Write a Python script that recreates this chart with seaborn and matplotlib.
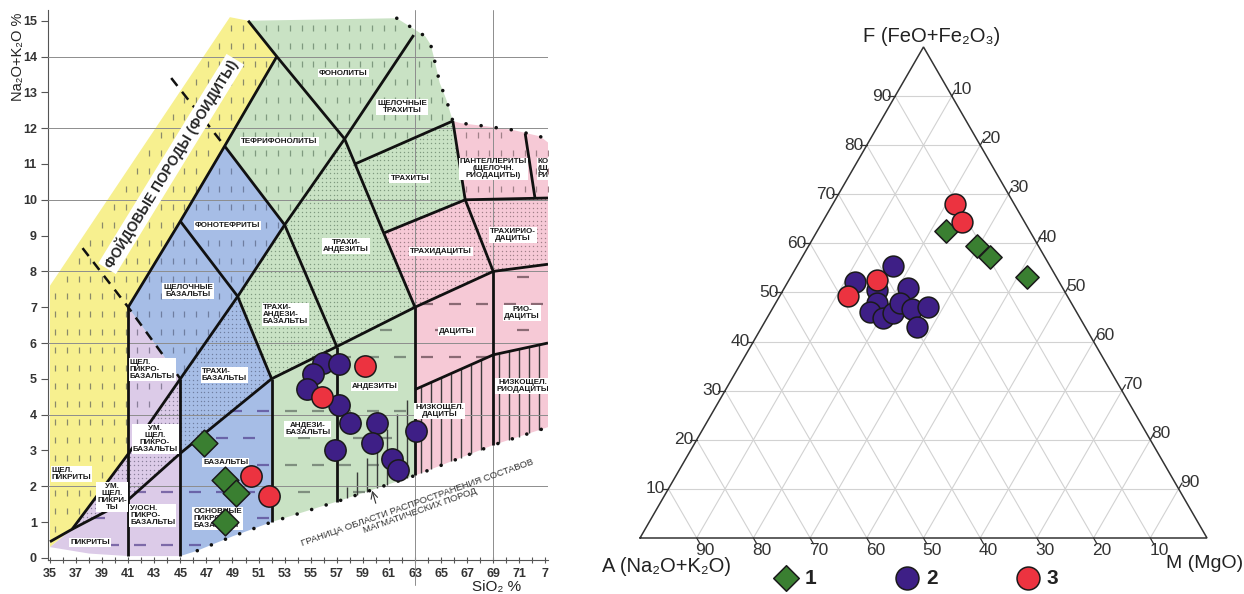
import numpy as np
import pandas as pd
import matplotlib
matplotlib.use("Agg")
import matplotlib.pyplot as plt
from matplotlib.path import Path
import seaborn as sns

sns.set_theme(style="white")
plt.rcParams["font.family"] = ["Liberation Sans", "DejaVu Sans"]

# ---------------- data: TAS diagram (left), wt % ----------------
tas_sio2_1 = [46.8, 48.45, 49.3, 48.45]
tas_alk_1 = [3.22, 2.18, 1.82, 0.99]
tas_sio2_2 = [55.95, 57.2, 55.2, 54.7, 57.2, 58.0, 60.1, 63.05, 56.9, 59.7, 61.2, 61.7]
tas_alk_2 = [5.44, 5.41, 5.13, 4.71, 4.27, 3.78, 3.76, 3.53, 3.02, 3.20, 2.76, 2.46]
tas_sio2_3 = [50.4, 51.8, 59.2, 55.9]
tas_alk_3 = [2.29, 1.73, 5.35, 4.50]

# ---------------- data: AFM ternary (right), % ----------------
afm_A_1 = [14.8, 10.8, 9.7, 5.2]
afm_F_1 = [62.6, 59.5, 57.2, 53.2]
afm_M_1 = [22.6, 29.7, 33.1, 41.6]
afm_A_2 = [36.0, 27.8, 32.9, 27.3, 34.3, 36.4, 34.7, 32.4, 30.2, 28.8, 25.6, 29.7]
afm_F_2 = [52.2, 55.3, 50.5, 50.9, 47.8, 46.1, 44.8, 45.9, 47.9, 46.6, 47.1, 42.9]
afm_M_2 = [11.8, 16.9, 16.6, 21.9, 17.9, 17.5, 20.5, 21.7, 21.9, 24.6, 27.3, 27.4]
afm_A_3 = [38.6, 31.9, 10.5, 11.1]
afm_F_3 = [49.3, 52.5, 68.0, 64.3]
afm_M_3 = [12.1, 15.6, 21.5, 24.6]

group_labels = ["1", "2", "3"]
group_colors = ["#3a7f31", "#3e1f86", "#ec3340"]
group_markers = ["D", "o", "o"]

sio2_ticks = list(range(35, 74, 2))
sio2_ticklabels = [str(v) for v in range(35, 72, 2)] + ["7"]
alk_ticks = list(range(0, 16))
afm_ticks = list(range(10, 100, 10))

# ---------------- TAS field geometry ----------------
BOT = [(46.3, 0.2), (47.5, 0.38), (49.0, 0.6), (50.5, 0.8), (52.0, 1.0), (57.0, 1.57),
       (63.0, 2.3), (69.0, 3.15), (73.2, 3.65)]
TOP_DOTS = [(61.6, 15.07), (63.0, 14.75), (63.8, 14.56), (64.2, 14.33), (64.4, 14.05),
            (64.9, 13.26), (65.4, 12.8), (65.9, 12.2), (66.5, 12.14), (68.5, 12.05),
            (70.5, 11.95), (72.6, 11.77), (73.2, 11.6)]

yellow_poly = [(35, 0.3), (35, 7.6), (48.8, 15.1), (50.2, 15.0), (52.4, 14), (48.4, 11.5),
               (45, 9.4), (41, 7), (41, 2.9), (36.7, 0.8)]
lav_poly = [(35, 0.3), (36.7, 0.8), (41, 2.9), (41, 7), (45, 5), (45, 0.05), (41, 0.05), (38, 0.12)]
blue_poly = [(41, 7), (45, 9.4), (48.4, 11.5), (53, 9.3), (49.4, 7.3), (52, 5), (52, 1.0)] + \
            BOT[:4][::-1] + [(45, 0.05), (45, 5)]
green_poly = [(50.2, 15.0), (61.6, 15.07)] + TOP_DOTS[1:8] + \
             [(66.85, 10), (60.6, 9.07), (63, 7), (63, 2.3), (57, 1.57), (52, 1.0), (52, 5),
              (49.4, 7.3), (53, 9.3), (48.4, 11.5), (52.4, 14)]
pink_poly = [(60.6, 9.07), (66.85, 10), (65.9, 12.2)] + TOP_DOTS[8:] + \
            [(73.2, 3.65), (69, 3.15), (63, 2.3), (63, 7)]

fill_polys = [yellow_poly, lav_poly, blue_poly, green_poly, pink_poly]
fill_colors = ["#f7f08f", "#dccbe8", "#a6bde6", "#c9e2c4", "#f6c9d6"]

tex_regions = [
    # vertical dashes
    (yellow_poly, "v", "#8a8a6a"),
    ([(41, 2.9), (41, 7), (45, 5)], "v", "#8a7f9a"),
    ([(41, 7), (45, 9.4), (49.4, 7.3), (45, 5)], "v", "#6f7ea0"),
    ([(45, 9.4), (48.4, 11.5), (53, 9.3), (49.4, 7.3)], "v", "#6f7ea0"),
    ([(48.4, 11.5), (52.4, 14), (57.6, 11.7), (53, 9.3)], "v", "#7f9a7f"),
    ([(50.2, 15.0), (61.6, 15.07), (62.9, 14.6), (57.6, 11.7), (52.4, 14)], "v", "#7f9a7f"),
    ([(62.9, 14.6), (63.8, 14.56), (64.4, 14.05), (64.9, 13.26), (65.4, 12.8), (65.9, 12.2),
      (58.4, 11.0), (57.6, 11.7)], "v", "#7f9a7f"),
    ([(65.9, 12.2), (71.45, 11.85), (72.2, 10.05), (66.85, 10)], "v", "#a08088"),
    ([(71.45, 11.85), (73.2, 11.6), (73.2, 10.05), (72.2, 10.05)], "v", "#a08088"),
    # dots
    ([(36.7, 0.8), (41, 2.9), (41, 1.62)], "d", "#8a7f9a"),
    ([(41, 1.62), (41, 2.9), (45, 5), (45, 2.92)], "d", "#8a7f9a"),
    ([(45, 2.92), (45, 5), (49.4, 7.3), (52, 5)], "d", "#6f7ea0"),
    ([(49.4, 7.3), (53, 9.3), (57, 5.9), (52, 5)], "d", "#7f9a7f"),
    ([(53, 9.3), (57.6, 11.7), (58.4, 11), (60.6, 9.07), (63, 7), (57, 5.9)], "d", "#7f9a7f"),
    ([(58.4, 11), (65.9, 12.2), (66.85, 10), (60.6, 9.07)], "d", "#7f9a7f"),
    ([(60.6, 9.07), (66.85, 10), (69, 8), (63, 7)], "d", "#a08088"),
    ([(66.85, 10), (73.2, 10.05), (73.2, 8.2), (69, 8)], "d", "#a08088"),
    # horizontal dashes
    ([(35, 0.3), (36.7, 0.8), (41, 1.62), (41, 0.05), (38, 0.12)], "h", "#7d6aa8"),
    ([(41, 0.05), (41, 1.62), (45, 2.92), (45, 0.05)], "h", "#7d6aa8"),
    ([(45, 0.05), (45, 2.92), (52, 5), (52, 1.0)] + BOT[:4][::-1], "h", "#6a64a8"),
    ([(52, 1.0), (52, 5), (57, 5.9), (57, 1.57)], "h", "#7f8f7f"),
    ([(57, 1.57), (57, 5.9), (63, 7), (63, 2.3)], "h", "#7f8f7f"),
    ([(63, 7), (69, 8), (69, 5.67), (63, 4.7)], "h", "#8a6a74"),
    ([(69, 8), (73.2, 8.2), (73.2, 6.0), (69, 5.67)], "h", "#8a6a74"),
]

solid_lines = [
    [(41, 0.05), (41, 7)],
    [(45, 0.05), (45, 5)],
    [(52, 1.0), (52, 5)],
    [(57, 1.57), (57, 5.9)],
    [(63, 2.3), (63, 7)],
    [(69, 3.15), (69, 8)],
    [(41, 7), (45, 9.4), (48.4, 11.5), (52.4, 14)],
    [(50.2, 15.0), (52.4, 14), (57.6, 11.7), (58.4, 11.0), (60.6, 9.07), (63, 7)],
    [(35, 0.45), (36.7, 0.8), (41, 2.9), (45, 5), (49.4, 7.3), (53, 9.3), (57.6, 11.7), (62.9, 14.6)],
    [(36.7, 0.8), (41, 1.62), (45, 2.92), (52, 5), (57, 5.9), (63, 7), (69, 8), (73.2, 8.2)],
    [(49.4, 7.3), (52, 5)],
    [(53, 9.3), (57, 5.9)],
    [(48.4, 11.5), (53, 9.3)],
    [(45, 9.4), (49.4, 7.3)],
    [(58.4, 11.0), (65.9, 12.2)],
    [(60.6, 9.07), (66.85, 10), (73.2, 10.05)],
    [(65.9, 12.2), (66.85, 10), (69, 8)],
    [(71.45, 11.85), (72.2, 10.05)],
    [(63, 4.7), (69, 5.67), (73.2, 6.0)],
]
dashed_lines = [[(37.5, 8.65), (41, 7), (45, 5)], [(44.3, 13.4), (48.4, 11.5)]]

hatch_sets = [
    (np.arange(57.75, 62.8, 0.77), [(57.6, 1.9), (62.9, 4.7)]),
    (np.arange(63.45, 68.8, 0.77), [(63, 4.7), (69, 5.67)]),
    (np.arange(69.45, 73.2, 0.77), [(69, 5.67), (73.2, 6.0)]),
]

field_labels = [
    ("ФОНОЛИТЫ", 57.5, 13.54, "center"),
    ("ЩЕЛОЧНЫЕ\nТРАХИТЫ", 62.0, 12.6, "center"),
    ("ТЕФРИФОНОЛИТЫ", 52.6, 11.62, "center"),
    ("ТРАХИТЫ", 62.6, 10.6, "center"),
    ("ПАНТЕЛЛЕРИТЫ\n(ЩЕЛОЧН.\nРИОДАЦИТЫ)", 69.0, 10.86, "center"),
    ("КОМЕНДИТЫ\n(ЩЕЛОЧН.\nРИОЛИТЫ)", 72.4, 10.86, "left"),
    ("ФОНОТЕФРИТЫ", 48.6, 9.28, "center"),
    ("ТРАХИ-\nАНДЕЗИТЫ", 57.7, 8.72, "center"),
    ("ТРАХИДАЦИТЫ", 65.0, 8.56, "center"),
    ("ТРАХИРИО-\nДАЦИТЫ", 70.5, 9.02, "center"),
    ("ЩЕЛОЧНЫЕ\nБАЗАЛЬТЫ", 45.6, 7.44, "center"),
    ("ТРАХИ-\nАНДЕЗИ-\nБАЗАЛЬТЫ", 51.3, 6.8, "left"),
    ("ДАЦИТЫ", 66.2, 6.32, "center"),
    ("РИО-\nДАЦИТЫ", 71.2, 6.83, "center"),
    ("ЩЕЛ.\nПИКРО-\nБАЗАЛЬТЫ", 41.1, 5.25, "left"),
    ("ТРАХИ-\nБАЗАЛЬТЫ", 46.65, 5.11, "left"),
    ("АНДЕЗИТЫ", 59.9, 4.79, "center"),
    ("НИЗКОЩЕЛ.\nРИОДАЦИТЫ", 71.26, 4.81, "center"),
    ("НИЗКОЩЕЛ.\nДАЦИТЫ", 64.9, 4.09, "center"),
    ("АНДЕЗИ-\nБАЗАЛЬТЫ", 54.76, 3.6, "center"),
    ("УМ.\nЩЕЛ.\nПИКРО-\nБАЗАЛЬТЫ", 43.06, 3.32, "center"),
    ("БАЗАЛЬТЫ", 48.47, 2.67, "center"),
    ("ЩЕЛ.\nПИКРИТЫ", 35.13, 2.35, "left"),
    ("УМ.\nЩЕЛ.\nПИКРИ-\nТЫ", 39.75, 1.7, "center"),
    ("У/ОСН.\nПИКРО-\nБАЗАЛЬТЫ", 41.15, 1.19, "left"),
    ("ОСНОВНЫЕ\nПИКРО-\nБАЗАЛЬТЫ", 46.0, 1.1, "left"),
    ("ПИКРИТЫ", 38.07, 0.43, "center"),
]


def texture(ax, poly, kind, color):
    p = Path(poly)
    if kind == "v":
        gx, gy = np.meshgrid(np.arange(35.4, 74, 0.9), np.arange(0.3, 16, 0.5))
        pts = np.column_stack([gx.ravel(), gy.ravel()])
        ok = p.contains_points(pts + [0, 0.14]) & p.contains_points(pts - [0, 0.14])
        kw = dict(marker="|", ms=5, mew=0.9)
    elif kind == "h":
        gx, gy = np.meshgrid(np.arange(35.6, 75, 2.1), np.arange(0.35, 16, 0.75))
        gx = gx + (np.arange(gx.shape[0])[:, None] % 2) * 1.05
        pts = np.column_stack([gx.ravel(), gy.ravel()])
        ok = p.contains_points(pts + [0.5, 0.1]) & p.contains_points(pts - [0.5, 0.1])
        kw = dict(marker="_", ms=9, mew=1.6)
    else:
        gx, gy = np.meshgrid(np.arange(35.15, 74, 0.3), np.arange(0.06, 16, 0.12))
        pts = np.column_stack([gx.ravel(), gy.ravel()])
        ok = p.contains_points(pts)
        kw = dict(marker="o", ms=1.0, mew=0)
    q = pts[ok]
    ax.plot(q[:, 0], q[:, 1], ls="none", color=color, zorder=2, **kw)


fig = plt.figure(figsize=(12.44, 5.94), dpi=100)
fig.patch.set_facecolor("white")

# ============ LEFT: TAS ============
ax1 = fig.add_axes([48 / 1244, 34 / 594, 500 / 1244, 550 / 594])
ax1.set_xlim(34.85, 73.2)
ax1.set_ylim(-0.06, 15.3)
ax1.set_facecolor("white")

for poly, col in zip(fill_polys, fill_colors):
    xy = np.array(poly)
    ax1.fill(xy[:, 0], xy[:, 1], color=col, lw=0, zorder=1)
for poly, kind, col in tex_regions:
    texture(ax1, poly, kind, col)

bx, by = np.array(BOT).T
for xs, top in hatch_sets:
    tx, ty = np.array(top).T
    ax1.vlines(xs, np.interp(xs, bx, by), np.interp(xs, tx, ty), colors="#3a3a3a", lw=1.0, zorder=2.5)

for yv in range(2, 15, 2):
    ax1.axhline(yv, color="#8d8d8d", lw=0.7, zorder=3)
ax1.plot([63, 63], [-0.75, 15.3], color="#8d8d8d", lw=0.7, zorder=3, clip_on=False)
ax1.plot([69, 69], [-0.06, 15.3], color="#8d8d8d", lw=0.7, zorder=3)

for ln in solid_lines:
    xy = np.array(ln)
    ax1.plot(xy[:, 0], xy[:, 1], color="#111111", lw=2.0, zorder=4, solid_capstyle="butt")
for ln in dashed_lines:
    xy = np.array(ln)
    ax1.plot(xy[:, 0], xy[:, 1], color="#111111", lw=1.8, ls=(0, (4, 3)), zorder=4)
for dots in (BOT, TOP_DOTS):
    xy = np.array(dots)
    ax1.plot(xy[:, 0], xy[:, 1], color="#111111", lw=2.6, ls=(0, (0.01, 4.2)),
             dash_capstyle="round", zorder=4)

for txt, x, y, ha in field_labels:
    t = ax1.text(x, y, txt, ha=ha, va="center", fontsize=5.8, fontweight="bold",
                 linespacing=1.0, zorder=5, color="#1a1a1a",
                 bbox=dict(boxstyle="square,pad=0.12", fc="white", ec="none"))
    t.set_clip_on(True)

ax1.text(44.3, 11.0, "ФОЙДОВЫЕ ПОРОДЫ (ФОИДИТЫ)", rotation=58.5, rotation_mode="anchor",
         ha="center", va="center", fontsize=10, fontweight="bold", zorder=5,
         bbox=dict(boxstyle="square,pad=0.15", fc="white", ec="none"))
ax1.text(63.3, 1.42, "ГРАНИЦА ОБЛАСТИ РАСПРОСТРАНЕНИЯ СОСТАВОВ\nМАГМАТИЧЕСКИХ ПОРОД",
         rotation=19.5, rotation_mode="anchor", ha="center", va="center", fontsize=6.8,
         color="#333333", linespacing=1.0, zorder=5)
ax1.annotate("", xy=(59.65, 1.95), xytext=(60.05, 1.45),
             arrowprops=dict(arrowstyle="->", color="#333333", lw=0.8), zorder=5)

# data points (TAS)
tas_sets = [(tas_sio2_1, tas_alk_1, 185), (tas_sio2_2, tas_alk_2, 235), (tas_sio2_3, tas_alk_3, 235)]
for (sx, sy, s), col, mk in zip(tas_sets, group_colors, group_markers):
    sns.scatterplot(x=sx, y=sy, ax=ax1, marker=mk, s=s, color=col, edgecolor="#1a1a1a",
                    linewidth=1.1, zorder=6, legend=False)

ax1.set_xticks(sio2_ticks)
ax1.set_xticklabels(sio2_ticklabels, fontweight="bold", fontsize=9, color="#333333")
ax1.set_xticks(range(35, 74), minor=True)
ax1.set_yticks(alk_ticks)
ax1.set_yticklabels([str(v) for v in alk_ticks], fontweight="bold", fontsize=9, color="#333333")
ax1.tick_params(axis="x", which="both", direction="inout", length=5, width=0.8, color="#555555", pad=3,
                bottom=True)
ax1.tick_params(axis="y", direction="out", length=5, width=0.8, color="#555555", pad=3, left=True)
for side in ("top", "right"):
    ax1.spines[side].set_visible(False)
for side in ("left", "bottom"):
    ax1.spines[side].set_color("#555555")
    ax1.spines[side].set_linewidth(0.8)
ax1.set_ylabel("Na₂O+K₂O %", fontsize=10.5, color="#222222")
ax1.yaxis.set_label_coords(-0.046, 0.915)
ax1.set_xlabel("SiO₂ %", fontsize=11, color="#222222")
ax1.xaxis.set_label_coords(0.898, -0.036)

# ============ RIGHT: AFM ternary ============
S3 = np.sqrt(3) / 2
ax2 = fig.add_axes([600 / 1244, 0, 644 / 1244, 1])
ax2.set_xlim(-40 / 567, 604 / 567)
ax2.set_ylim(-56 / 567, 538 / 567)
ax2.set_axis_off()


def tern(A, F, M):
    A, F, M = (np.asarray(v, float) for v in (A, F, M))
    s = A + F + M
    return (M + F / 2) / s, F * S3 / s


for t in np.array(afm_ticks) / 100:
    for (a0, f0, m0), (a1, f1, m1) in [((1 - t, t, 0), (0, t, 1 - t)),
                                       ((1 - t, 0, t), (0, 1 - t, t)),
                                       ((t, 0, 1 - t), (t, 1 - t, 0))]:
        x0, y0 = tern(a0, f0, m0)
        x1, y1 = tern(a1, f1, m1)
        ax2.plot([x0, x1], [y0, y1], color="#d2d2d2", lw=0.8, zorder=1)

ax2.plot([0, 1, 0.5, 0], [0, 0, S3, 0], color="#333333", lw=1.1, zorder=2, solid_joinstyle="miter")

tk = 0.012
for v in afm_ticks:
    t = v / 100
    # left edge: F
    x, y = tern(1 - t, t, 0)
    ax2.plot([x, x - tk], [y, y], color="#333333", lw=0.9, zorder=2)
    ax2.text(x - 0.006, y, str(v), ha="right", va="center", fontsize=12.5, color="#333333")
    # bottom edge: A
    x, y = tern(t, 0, 1 - t)
    ax2.plot([x, x + tk * 0.5], [y, y - tk * S3], color="#333333", lw=0.9, zorder=2)
    ax2.text(x - 0.002, y - 0.008, str(v), ha="left", va="top", fontsize=12.5, color="#333333")
    # right edge: M
    x, y = tern(0, 1 - t, t)
    ax2.plot([x, x + tk * 0.5], [y, y + tk * S3], color="#333333", lw=0.9, zorder=2)
    ax2.text(x + 0.002, y - 0.002, str(v), ha="left", va="bottom", fontsize=12.5, color="#333333")

ax2.text(0.5145, 0.884, "F (FeO+Fe₂O₃)", ha="center", va="center", fontsize=14.5, color="#222222")
ax2.text(0.0476, -0.051, "A (Na₂O+K₂O)", ha="center", va="center", fontsize=14.5, color="#222222")
ax2.text(0.996, -0.045, "M (MgO)", ha="center", va="center", fontsize=14, color="#222222")

afm_sets = [(afm_A_1, afm_F_1, afm_M_1, 140), (afm_A_2, afm_F_2, afm_M_2, 225),
            (afm_A_3, afm_F_3, afm_M_3, 225)]
handles = []
for (a, f, m, s), col, mk, lab in zip(afm_sets, group_colors, group_markers, group_labels):
    x, y = tern(a, f, m)
    df = pd.DataFrame({"x": x, "y": y})
    sns.scatterplot(data=df, x="x", y="y", ax=ax2, marker=mk, s=s, color=col, edgecolor="#1a1a1a",
                    linewidth=1.1, zorder=5, legend=False, label=lab)
    handles.append(ax2.collections[-1])

leg = ax2.legend(handles=handles, labels=group_labels, loc="center",
                 bbox_to_anchor=((916 - 600) / 644, (594 - 578) / 594), ncol=3, frameon=False,
                 prop={"weight": "bold", "size": 15}, handletextpad=0.3, columnspacing=3.75,
                 handlelength=1.2, markerscale=1.1)
for txt in leg.get_texts():
    txt.set_color("#222222")

fig.savefig("out.png", dpi=100, facecolor="white")
